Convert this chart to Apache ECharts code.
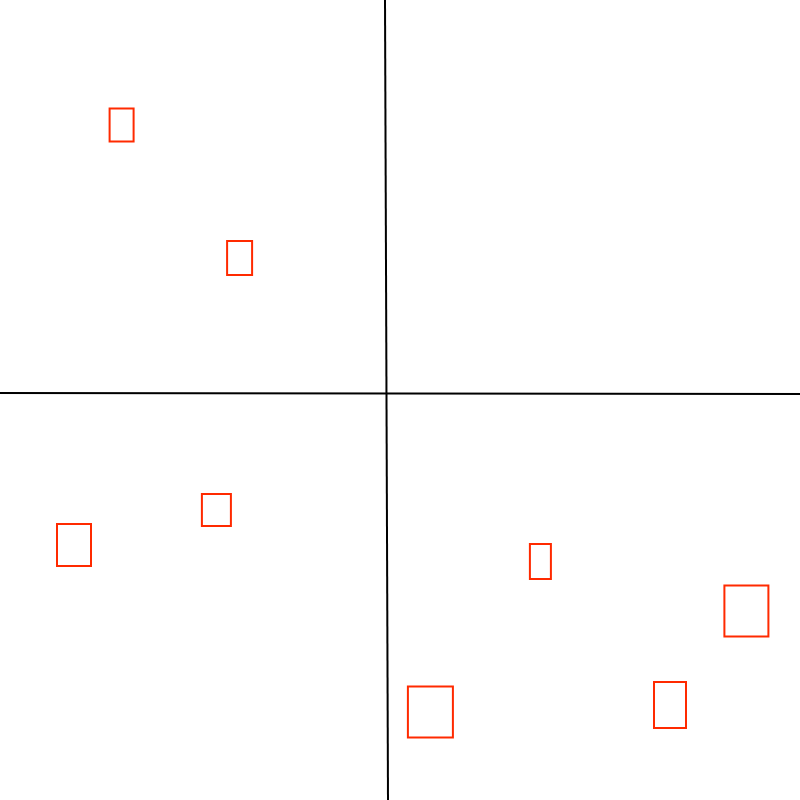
<!DOCTYPE html>
<html>
<head>
<meta charset="utf-8">
<script src="https://cdn.jsdelivr.net/npm/echarts@6/dist/echarts.min.js"></script>
<style>html,body{margin:0;padding:0;background:#fff}#c{width:800px;height:800px}</style>
</head>
<body>
<div id="c"></div>
<script>
// axis lines (data units)
const verticalLine = [[-3.75, 100], [-3, -100]];
const horizontalLine = [[-100, 1.75], [100, 1.5]];
// boxes: center x, center y, width, height (data units)
const boxX = [-69.6, -40.1, -45.9, -81.5, 35.1, 86.6, 67.5, 7.6];
const boxY = [68.75, 35.5, -27.5, -36.25, -40.4, -52.75, -76.25, -78];
const boxW = [6, 6.25, 7.25, 8.5, 5.25, 11, 8, 11.25];
const boxH = [8.25, 8.5, 8, 10.5, 8.75, 12.75, 11.5, 12.75];

const boxes = boxX.map((x, i) => [x, boxY[i], boxW[i], boxH[i]]);

const chart = echarts.init(document.getElementById('c'));
chart.setOption({
  animation: false,
  grid: {left: 0, right: 0, top: 0, bottom: 0},
  xAxis: {type: 'value', min: -100, max: 100, show: false},
  yAxis: {type: 'value', min: -100, max: 100, show: false},
  series: [
    {type: 'line', data: verticalLine, symbol: 'none', lineStyle: {color: '#000', width: 2}},
    {type: 'line', data: horizontalLine, symbol: 'none', lineStyle: {color: '#000', width: 2}},
    {
      type: 'custom',
      data: boxes,
      renderItem: function (params, api) {
        const c = api.coord([api.value(0), api.value(1)]);
        const s = api.size([api.value(2), api.value(3)]);
        return {
          type: 'rect',
          shape: {x: c[0] - s[0] / 2, y: c[1] - s[1] / 2, width: s[0], height: s[1]},
          style: {fill: 'none', stroke: '#ff2a00', lineWidth: 2}
        };
      }
    }
  ]
});
</script>
</body>
</html>
